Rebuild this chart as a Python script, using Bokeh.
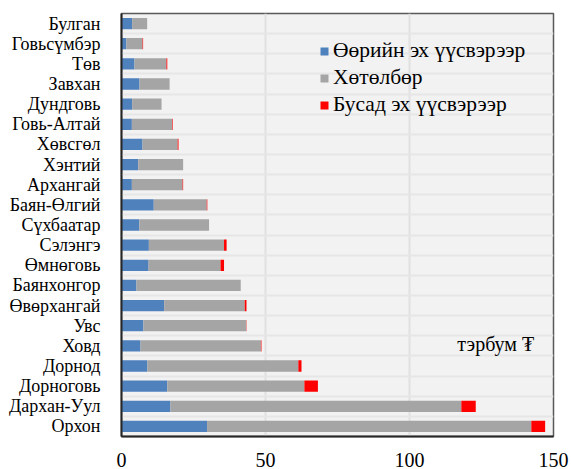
from bokeh.plotting import figure
from bokeh.models import ColumnDataSource, FixedTicker, Range1d, Label, Legend
from bokeh.embed import file_html
from bokeh.resources import INLINE

# Data (top to bottom as shown)
aimags = ["Булган", "Говьсүмбэр", "Төв", "Завхан", "Дундговь", "Говь-Алтай",
          "Хөвсгөл", "Хэнтий", "Архангай", "Баян-Өлгий", "Сүхбаатар", "Сэлэнгэ",
          "Өмнөговь", "Баянхонгор", "Өвөрхангай", "Увс", "Ховд", "Дорнод",
          "Дорноговь", "Дархан-Уул", "Орхон"]
own_sources = [3.7, 1.7, 4.5, 6.25, 3.7, 3.6, 7.3, 5.8, 3.6, 11.2, 6.2, 9.5,
               9.4, 5.2, 14.8, 7.6, 6.6, 9.0, 15.9, 17.0, 29.7]
program = [5.2, 5.6, 11.1, 10.45, 10.2, 14.0, 12.2, 15.6, 17.6, 18.4, 24.2, 26.1,
           25.0, 36.2, 28.0, 35.7, 41.8, 52.4, 47.6, 101.0, 112.6]
other_sources = [0.0, 0.2, 0.3, 0.0, 0.0, 0.2, 0.3, 0.0, 0.2, 0.2, 0.0, 0.9,
                 1.2, 0.0, 0.6, 0.1, 0.2, 1.1, 4.7, 5.0, 4.8]
series_names = ["Өөрийн эх үүсвэрээр", "Хөтөлбөр", "Бусад эх үүсвэрээр"]
x_ticks = [0, 50, 100, 150]
unit_text = "тэрбум ₮"

colors = ["#4f81bd", "#a5a5a5", "#ff0000"]
FONT = "Liberation Serif"

n = len(aimags)
ypos = [n - 1 - i for i in range(n)]
src = ColumnDataSource(dict(y=ypos, own=own_sources, prog=program, other=other_sources))

p = figure(width=571, height=469, output_backend="svg", toolbar_location=None,
           x_range=Range1d(0, 150), y_range=Range1d(-0.5, n - 0.5),
           min_border_left=121, min_border_right=18, min_border_top=13, min_border_bottom=32)

renderers = p.hbar_stack(["own", "prog", "other"], y="y", height=0.56, color=colors,
                         source=src, line_width=0)

legend = Legend(items=[(series_names[i], [renderers[i]]) for i in range(3)])
legend.location = (198, 319)
legend.background_fill_alpha = 0
legend.border_line_alpha = 0
legend.padding = 0
legend.margin = 0
legend.spacing = 2
legend.glyph_width = 10
legend.glyph_height = 10
legend.label_height = 24
legend.label_standoff = 4
legend.label_text_font = FONT
legend.label_text_font_size = "21.5px"
legend.label_text_color = "#000000"
p.add_layout(legend)

p.background_fill_color = "#f2f2f2"
p.border_fill_color = "#ffffff"
p.outline_line_color = "#595959"
p.outline_line_width = 1.5

# y axis
p.yaxis.ticker = FixedTicker(ticks=ypos)
p.yaxis.major_label_overrides = {ypos[i]: aimags[i] for i in range(n)}
p.yaxis.major_tick_line_color = None
p.yaxis.minor_tick_line_color = None
p.yaxis.axis_line_color = "#262626"
p.yaxis.axis_line_width = 2
p.yaxis.major_label_standoff = 15
p.yaxis.major_label_text_font = FONT
p.yaxis.major_label_text_font_size = "18px"
p.yaxis.major_label_text_color = "#000000"

# x axis
p.xaxis.ticker = FixedTicker(ticks=x_ticks)
p.xaxis.major_tick_line_color = None
p.xaxis.minor_tick_line_color = None
p.xaxis.axis_line_color = "#262626"
p.xaxis.axis_line_width = 2
p.xaxis.major_label_standoff = 10
p.xaxis.major_label_text_font = FONT
p.xaxis.major_label_text_font_size = "20px"
p.xaxis.major_label_text_color = "#000000"

# grids
p.xgrid.grid_line_color = "#e1e1e1"
p.xgrid.grid_line_width = 2
p.ygrid.ticker = FixedTicker(ticks=[k + 0.5 for k in range(n - 1)])
p.ygrid.grid_line_color = "#e6e6e6"
p.ygrid.grid_line_width = 2

hovd = aimags.index("Ховд")
p.add_layout(Label(x=143.3, y=ypos[hovd] + 0.1, text=unit_text, text_align="right",
                   text_baseline="middle", text_font=FONT, text_font_size="20px",
                   text_color="#000000"))

open("out.html", "w").write(file_html(p, INLINE))
